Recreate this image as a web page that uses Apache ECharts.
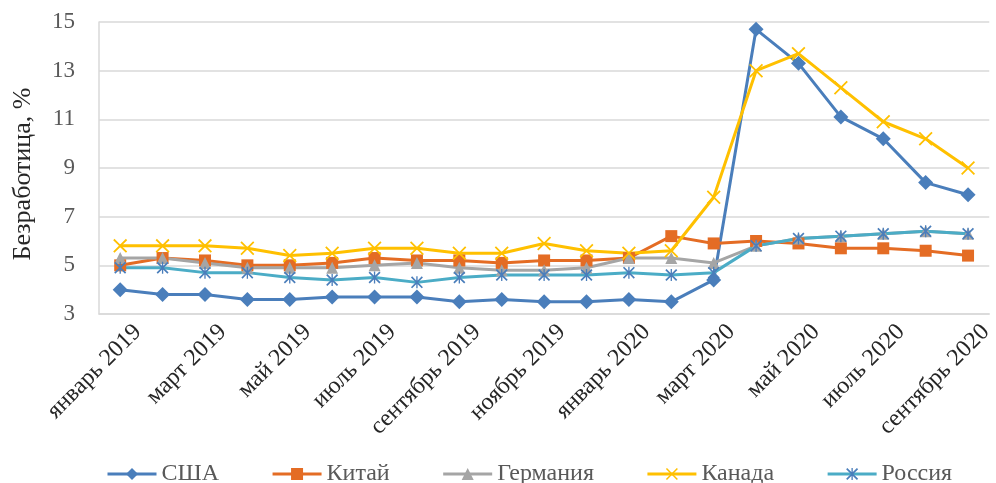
<!DOCTYPE html>
<html>
<head>
<meta charset="utf-8">
<script src="https://cdn.jsdelivr.net/npm/echarts@6/dist/echarts.min.js"></script>
<style>
html, body { margin: 0; padding: 0; background: #fff; }
#chart { width: 996px; height: 483px; }
</style>
</head>
<body>
<div id="chart"></div>
<script>
var months = ['январь 2019', 'февраль 2019', 'март 2019', 'апрель 2019', 'май 2019', 'июнь 2019',
    'июль 2019', 'август 2019', 'сентябрь 2019', 'октябрь 2019', 'ноябрь 2019', 'декабрь 2019',
    'январь 2020', 'февраль 2020', 'март 2020', 'апрель 2020', 'май 2020', 'июнь 2020',
    'июль 2020', 'август 2020', 'сентябрь 2020'];
var usa     = [4.0, 3.8, 3.8, 3.6, 3.6, 3.7, 3.7, 3.7, 3.5, 3.6, 3.5, 3.5, 3.6, 3.5, 4.4, 14.7, 13.3, 11.1, 10.2, 8.4, 7.9];
var china   = [5.0, 5.3, 5.2, 5.0, 5.0, 5.1, 5.3, 5.2, 5.2, 5.1, 5.2, 5.2, 5.3, 6.2, 5.9, 6.0, 5.9, 5.7, 5.7, 5.6, 5.4];
var germany = [5.3, 5.3, 5.1, 4.9, 4.9, 4.9, 5.0, 5.1, 4.9, 4.8, 4.8, 4.9, 5.3, 5.3, 5.1, 5.8, 6.1, 6.2, 6.3, 6.4, 6.3];
var canada  = [5.8, 5.8, 5.8, 5.7, 5.4, 5.5, 5.7, 5.7, 5.5, 5.5, 5.9, 5.6, 5.5, 5.6, 7.8, 13.0, 13.7, 12.3, 10.9, 10.2, 9.0];
var russia  = [4.9, 4.9, 4.7, 4.7, 4.5, 4.4, 4.5, 4.3, 4.5, 4.6, 4.6, 4.6, 4.7, 4.6, 4.7, 5.8, 6.1, 6.2, 6.3, 6.4, 6.3];

var font = '"Liberation Serif", "Times New Roman", serif';
// X and asterisk markers as filled outlines
var crossPath = 'path://M0,0.9L0.9,0L5,4.1L9.1,0L10,0.9L5.9,5L10,9.1L9.1,10L5,5.9L0.9,10L0,9.1L4.1,5Z';
var starPath = 'path://M0,1L1,0L5,4L9,0L10,1L6,5L10,9L9,10L5,6L1,10L0,9L4,5Z M4.45,0L5.55,0L5.55,10L4.45,10Z';

function line(name, data, color, symbol, size, markerColor) {
    return {
        name: name,
        type: 'line',
        data: data,
        symbol: symbol,
        symbolSize: size,
        color: color,
        lineStyle: { width: 3, color: color },
        itemStyle: { color: markerColor || color },
        emphasis: { disabled: true }
    };
}

var chart = echarts.init(document.getElementById('chart'));
chart.setOption({
    animation: false,
    textStyle: { fontFamily: font },
    grid: { left: 99, right: -7, top: 22, bottom: 169 },
    legend: {
        left: 101,
        top: 457,
        itemWidth: 49,
        itemHeight: 15,
        itemGap: 52,
        lineStyle: { width: 3 },
        textStyle: { fontFamily: font, fontSize: 24, color: '#595959' },
        data: ['США', 'Китай', 'Германия', 'Канада', 'Россия']
    },
    xAxis: {
        type: 'category',
        data: months,
        boundaryGap: true,
        axisLine: { lineStyle: { color: '#D9D9D9', width: 1.5 } },
        axisTick: { interval: 1, length: 8, lineStyle: { color: '#D9D9D9', width: 1.5 } },
        axisLabel: {
            interval: 1,
            rotate: 45,
            margin: 32,
            padding: [0, -25, 0, 0],
            fontFamily: font,
            fontSize: 24,
            color: '#262626'
        }
    },
    yAxis: {
        type: 'value',
        min: 3,
        max: 15,
        interval: 2,
        name: 'Безработица, %',
        nameLocation: 'middle',
        nameGap: 63,
        nameTextStyle: { fontFamily: font, fontSize: 26, color: '#262626', padding: [0, 12, 0, 0] },
        axisLine: { show: true, lineStyle: { color: '#D9D9D9', width: 1.5 } },
        axisTick: { show: false },
        axisLabel: { margin: 24, fontFamily: font, fontSize: 23, color: '#595959' },
        splitLine: { lineStyle: { color: '#D9D9D9', width: 1.5 } }
    },
    series: [
        line('США', usa, '#4A7EBB', 'diamond', 15),
        line('Китай', china, '#E46C24', 'rect', 12),
        line('Германия', germany, '#A5A5A5', 'triangle', 12),
        line('Канада', canada, '#FFC000', crossPath, 14),
        line('Россия', russia, '#4BACC6', starPath, 12, '#4A7EBB')
    ]
});
</script>
</body>
</html>
